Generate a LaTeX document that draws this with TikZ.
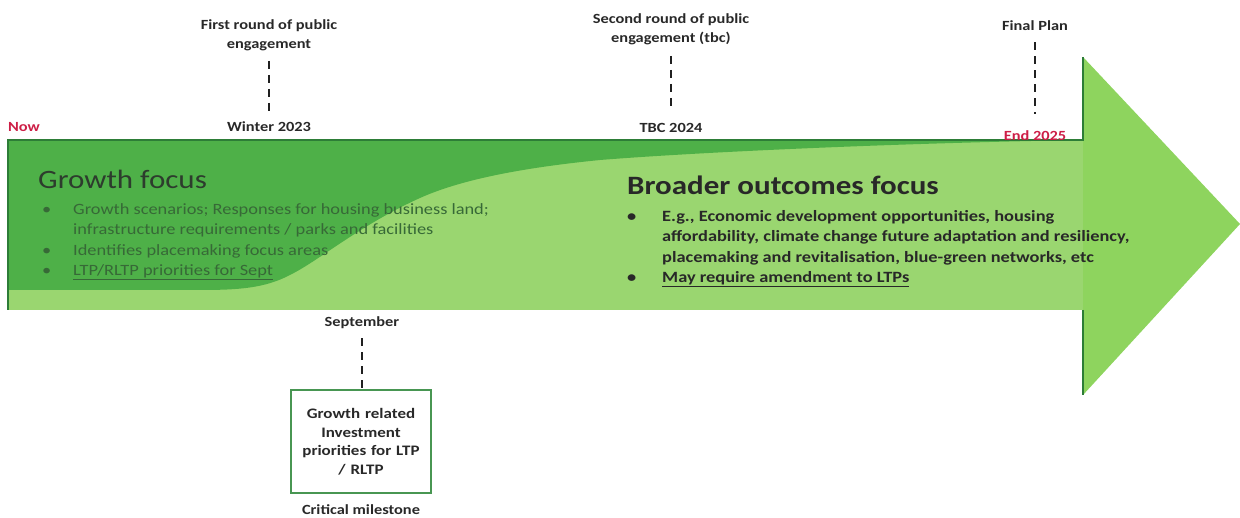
\documentclass[tikz,border=0pt]{standalone}
\usepackage{fontspec}
\setmainfont[FakeStretch=1.17]{Carlito}
\usetikzlibrary{positioning}
\definecolor{shaftlight}{RGB}{154,214,112}
\definecolor{headgreen}{RGB}{142,212,94}
\definecolor{shaftdark}{RGB}{78,176,72}
\definecolor{edgegreen}{RGB}{45,125,55}
\definecolor{boxgreen}{RGB}{72,150,82}
\definecolor{datered}{RGB}{205,30,70}
\definecolor{inkgray}{RGB}{40,40,40}
\definecolor{headink}{RGB}{45,60,45}
\definecolor{fadedink}{RGB}{55,105,55}
\tikzset{
  toplabel/.style={align=center, text=inkgray, inner sep=2pt,
                   font=\bfseries\fontsize{14}{19}\selectfont},
  datelabel/.style={text=inkgray, inner sep=2pt,
                    font=\bfseries\fontsize{14}{17}\selectfont},
  reddate/.style={datelabel, text=datered},
  milestone/.style={draw=inkgray!80!black, line width=2pt,
                    dash pattern=on 8pt off 6pt},
  heading/.style={anchor=base west, inner sep=0pt,
                  font=\fontsize{26.5}{32}\selectfont},
  bulletlist/.style={anchor=north west, inner sep=0pt,
                     font=\fontsize{15.7}{20.3}\selectfont},
  milebox/.style={rectangle, draw=boxgreen, line width=1.5pt,
                  minimum width=140pt, minimum height=103pt,
                  text width=130pt, align=center, text=inkgray,
                  font=\bfseries\fontsize{14.5}{18.5}\selectfont},
}

\begin{document}
\begin{tikzpicture}[x=1pt, y=-1pt]
  \useasboundingbox (0,0) rectangle (1240,518);

  % timeline arrow: light body, darker growth band, outline
  \fill[shaftlight] (8,140) -- (1083,140) -- (1083,310) -- (8,310) -- cycle;
  \fill[headgreen] (1083,57) -- (1240,224) -- (1083,395) -- cycle;
  \fill[shaftdark] (8,140) -- (1083,140)
      .. controls (900,143) and (700,152) .. (600,160)
      .. controls (520,168) and (460,180) .. (420,198)
      .. controls (360,225) and (320,260) .. (290,275)
      .. controls (265,288) and (240,290) .. (200,290)
      -- (8,290) -- cycle;
  \draw[edgegreen, line width=1.5pt] (8,310) -- (8,140) -- (1083,140) -- (1083,57);
  \draw[edgegreen, line width=1.5pt] (1083,310) -- (1083,395);

  % dates on the timeline
  \node[reddate] (now) at (24,127) {Now};
  \node[datelabel] (winter) at (269,127) {Winter 2023};
  \node[datelabel] (tbc) at (671,128) {TBC 2024};
  \node[reddate] (end) at (1035,136) {End 2025};

  % engagement rounds above
  \node[toplabel] (round1) at (269,35) {First round of public\\engagement};
  \node[toplabel] (round2) at (671,29) {Second round of public\\engagement (tbc)};
  \node[toplabel] (final) at (1035,26) {Final Plan};
  \draw[milestone, shorten <=8pt, shorten >=6pt] (round1) -- (winter);
  \draw[milestone, shorten <=9pt, shorten >=10pt] (round2) -- (tbc);
  \draw[milestone, shorten <=9pt, shorten >=15pt] (final) -- (end);

  % two phases
  \node[heading, text=headink] (growth) at (38,189) {Growth focus};
  \node[bulletlist, text=fadedink] (growthlist) at (42,200) {%
    \begin{tabular}{@{}p{31pt}@{}l@{}}
      \textbullet & Growth scenarios; Responses for housing business land;\\
                  & infrastructure requirements / parks and facilities\\
      \textbullet & Identifies placemaking focus areas\\
      \textbullet & \underline{LTP/RLTP priorities for Sept}
    \end{tabular}};
  \node[heading, text=inkgray, font=\bfseries\fontsize{26.5}{32}\selectfont]
       (broader) at (627,195) {Broader outcomes focus};
  \node[bulletlist, text=inkgray, font=\bfseries\fontsize{15.7}{20.3}\selectfont]
       (broaderlist) at (627,207) {%
    \begin{tabular}{@{}p{35pt}@{}l@{}}
      \textbullet & E.g., Economic development opportunities, housing\\
                  & affordability, climate change future adaptation and resiliency,\\
                  & placemaking and revitalisation, blue-green networks, etc\\
      \textbullet & \underline{May require amendment to LTPs}
    \end{tabular}};

  % critical milestone below
  \node[datelabel] (sept) at (362,323) {September};
  \node[milebox] (invest) at (361,441.5)
       {Growth related\\Investment\\priorities for LTP\\/ RLTP};
  \node[datelabel, below=9pt of invest] (critical) {Critical milestone};
  \draw[milestone, shorten <=7pt] (sept) -- (sept |- invest.north);
\end{tikzpicture}
\end{document}
